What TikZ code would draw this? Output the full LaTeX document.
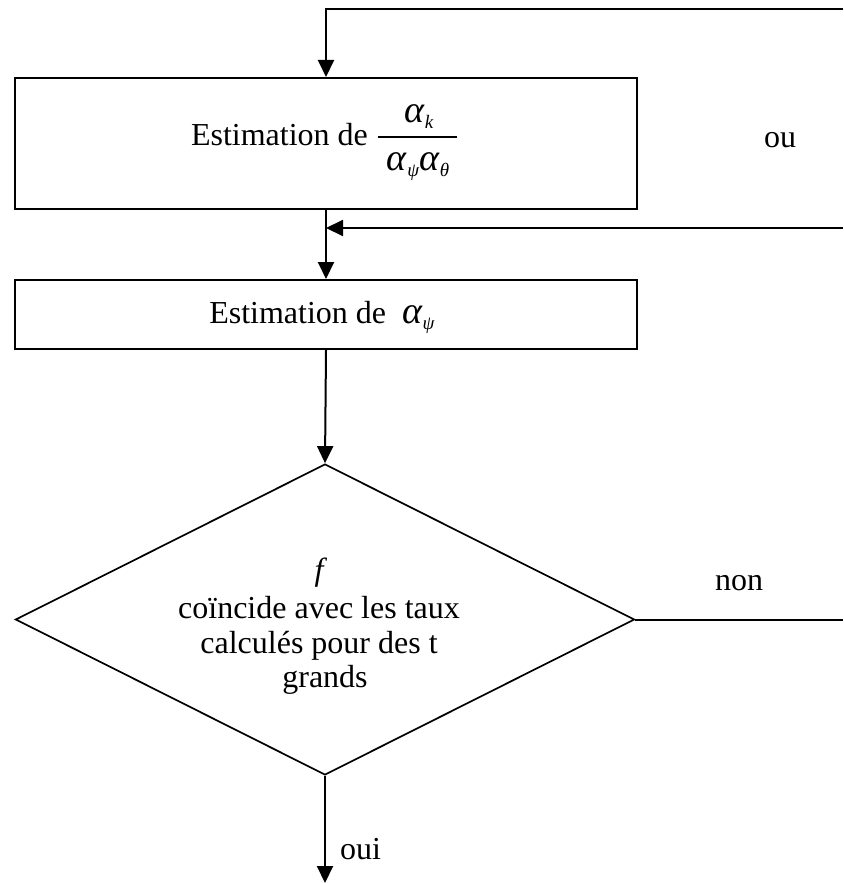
\documentclass[tikz,border=0pt]{standalone}
\usepackage{fontspec}
\setmainfont{Liberation Serif}
\usetikzlibrary{arrows.meta,shapes.geometric}
\newcommand\subs[1]{\raisebox{-6pt}{\fontsize{19}{20}\selectfont\textit{#1}}}
\newcommand\alf{{\fontsize{38}{38}\selectfont\textit{α}}}
\begin{document}
\begin{tikzpicture}[x=1pt,y=-1pt,
  line width=2pt,
  box/.style={draw, rectangle, inner sep=0pt},
  txt/.style={inner sep=0pt, font=\fontsize{32}{36}\selectfont},
  arr/.style={-{Triangle[length=17pt,width=16pt]}},
]
\useasboundingbox (0,0) rectangle (843,883);
% shapes
\node[box, minimum width=622pt, minimum height=131pt] (b1) at (326,143.5) {};
\node[box, minimum width=622pt, minimum height=69pt] (b2) at (326,314.5) {};
\node[draw, diamond, inner sep=0pt, minimum width=619pt, minimum height=311pt, line width=1.7pt] (d) at (325,619.5) {};
% texts
\node[txt, anchor=base west] (t1) at (190,145) {Estimation de};
\node[txt, anchor=base] (num) at (419,122) {\alf\subs{k}};
\node[txt, anchor=base] (den) at (418,170) {\alf\subs{ψ}\alf\subs{θ}};
\coordinate (barl) at (378,137);
\coordinate (barr) at (457,137);
\draw[line width=1.3pt] (barl) -- (barr);
\node[txt, anchor=base] (t2) at (322,323) {Estimation de \ \alf\subs{ψ}};
\node[txt, anchor=base] (ou) at (780,147) {ou};
\node[txt, anchor=base] (non) at (739,590) {non};
\node[txt, anchor=base] (l1) at (321,580) {\textit{f}};
\node[txt, anchor=base] (l2) at (319,618) {coïncide avec les taux};
\node[txt, anchor=base] (l3) at (319,653) {calculés pour des t};
\node[txt, anchor=base] (l4) at (325,687) {grands};
\node[txt, anchor=base west] (oui) at (339,859) {oui};
% connectors
\coordinate (tr) at (843,9);
\coordinate (tc) at (326,9);
\coordinate (mr) at (843,228);
\coordinate (mc) at (326,228);
\coordinate (nr) at (843,619.5);
\coordinate (bot) at (325,883);
\draw[arr] (tr) -- (tc) -- (b1.north);
\draw[arr] (mr) -- (mc);
\draw[arr] (b1.south) -- (b2.north);
\draw[arr] (b2.south) -- (d.north);
\draw (d.east) -- (nr);
\draw[arr] (d.south) -- (bot);
\end{tikzpicture}
\end{document}
